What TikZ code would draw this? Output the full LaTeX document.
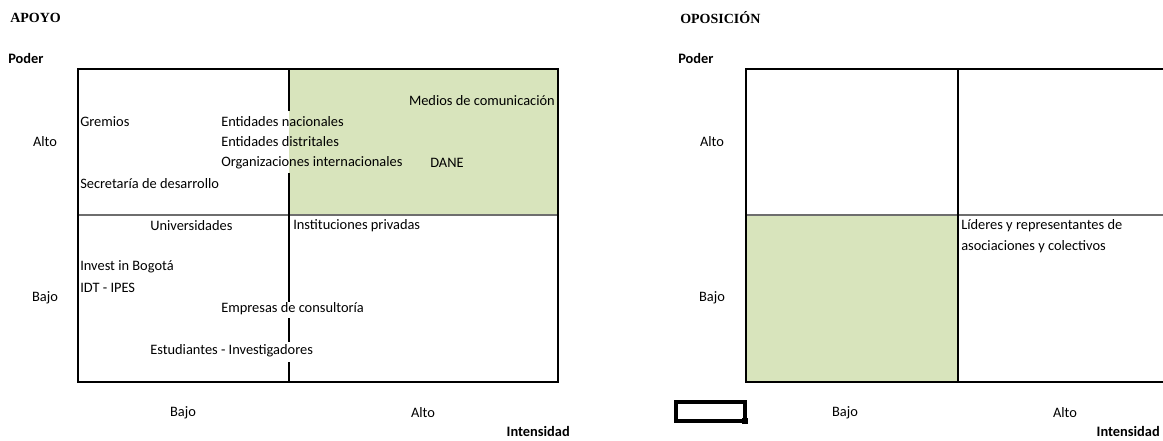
\documentclass[tikz,border=0pt]{standalone}
\usepackage{fontspec}
\setmainfont{Carlito}
\newfontfamily\headfont{Liberation Serif}
\usetikzlibrary{positioning}
\definecolor{cellgreen}{RGB}{216,228,188}
\definecolor{midgray}{RGB}{110,110,110}

\begin{document}
\begin{tikzpicture}[x=0.75pt, y=-0.75pt]
    \tikzstyle{cell} = [anchor=west, inner sep=0pt, font=\fontsize{10.8}{13}\selectfont];
    \tikzstyle{level} = [inner sep=0pt, font=\fontsize{10.8}{13}\selectfont];
    \tikzstyle{axisname} = [inner sep=0pt, font=\fontsize{10.8}{13}\selectfont\bfseries];
    \tikzstyle{heading} = [anchor=west, inner sep=0pt, font=\headfont\fontsize{10.5}{12}\selectfont\bfseries];
    \tikzstyle{grid} = [draw, line width=0.9pt];
    \tikzstyle{split} = [draw=midgray, line width=1.5pt];

    \useasboundingbox (0,0) rectangle (1163,440);

    % APOYO
    \node[heading] (apoyo) at (10,18) {APOYO};
    \node[axisname, anchor=west] (poderA) at (8,58) {Poder};

    \fill[cellgreen] (289,69) rectangle (558,215);
    \draw[split] (78,215) -- (558,215);
    \draw[grid] (78,69) rectangle (558,382);
    \draw[grid] (289,69) -- (289,111);
    \draw[grid] (289,173) -- (289,302);
    \draw[grid] (289,318) -- (289,342);
    \draw[grid] (289,362) -- (289,382);

    \node[cell, anchor=east] (medios) at (555,101) {Medios de comunicación};
    \node[cell] (gremios) at (80,122) {Gremios};
    \node[cell] (nac) at (221,122) {Entidades nacionales};
    \node[cell] (dis) at (221,142) {Entidades distritales};
    \node[cell] (inter) at (221,163) {Organizaciones internacionales};
    \node[cell] (dane) at (430,163) {DANE};
    \node[cell] (secre) at (80,184) {Secretaría de desarrollo};
    \node[cell] (univ) at (150,226) {Universidades};
    \node[cell] (priv) at (293,226) {Instituciones privadas};
    \node[cell] (invest) at (80,267) {Invest in Bogotá};
    \node[cell] (idt) at (80,288) {IDT - IPES};
    \node[cell] (consul) at (221,309) {Empresas de consultoría};
    \node[cell] (estud) at (150,351) {Estudiantes - Investigadores};

    \node[level] (altoA) at (45,142) {Alto};
    \node[level] (bajoA) at (45,298) {Bajo};
    \node[level] (xbajoA) at (183,413) {Bajo};
    \node[level] (xaltoA) at (423,413) {Alto};
    \node[axisname, anchor=east] (intA) at (570,431) {Intensidad};

    % OPOSICION
    \node[heading] (opos) at (680,18) {OPOSICIÓN};
    \node[axisname, anchor=west] (poderB) at (678,58) {Poder};

    \fill[cellgreen] (746,215) rectangle (958,382);
    \draw[split] (746,215) -- (1163,215);
    \draw[grid] (1163,69) -- (746,69) -- (746,382) -- (1163,382);
    \draw[grid] (958,69) -- (958,382);

    \node[cell] (lid1) at (961,226) {Líderes y representantes de};
    \node[cell] (lid2) at (961,247) {asociaciones y colectivos};

    \node[level] (altoB) at (712,142) {Alto};
    \node[level] (bajoB) at (712,298) {Bajo};
    \node[level] (xbajoB) at (845,413) {Bajo};
    \node[level] (xaltoB) at (1065,413) {Alto};
    \node[axisname, anchor=east] (intB) at (1160,431) {Intensidad};

    % selected cell
    \draw[line width=2.5pt] (676,402) rectangle (745,421);
    \fill (742,418) rectangle (748,424);
\end{tikzpicture}
\end{document}
